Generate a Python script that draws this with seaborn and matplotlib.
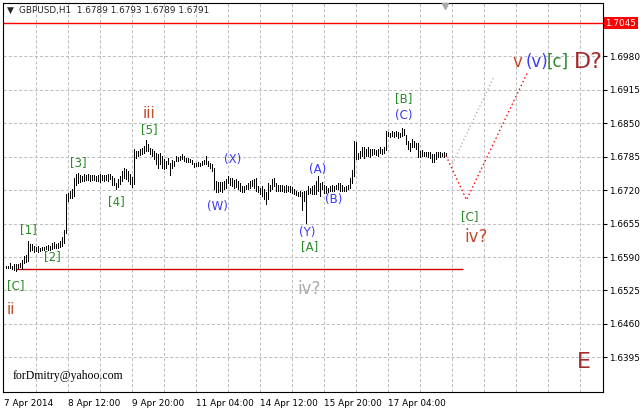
import numpy as np
import pandas as pd
import matplotlib
matplotlib.use("Agg")
import matplotlib.pyplot as plt
import matplotlib.transforms as mtransforms
import seaborn as sns

# GBPUSD H1 bars (bar 1 = first bar, 2 px per bar)
bar_high = [
    1.6573, 1.6572, 1.6579, 1.6573, 1.6576, 1.6577, 1.6577, 1.6579, 1.6584, 1.6592,
    1.6594, 1.6622, 1.6615, 1.6616, 1.6611, 1.6610, 1.6611, 1.6608, 1.6610, 1.6610,
    1.6611, 1.6613, 1.6611, 1.6618, 1.6619, 1.6616, 1.6618, 1.6622, 1.6628, 1.6642,
    1.6712, 1.6715, 1.6718, 1.6722, 1.6744, 1.6752, 1.6754, 1.6749, 1.6747, 1.6751,
    1.6749, 1.6751, 1.6749, 1.6749, 1.6749, 1.6747, 1.6749, 1.6751, 1.6749, 1.6750,
    1.6749, 1.6751, 1.6752, 1.6747, 1.6744, 1.6734, 1.6742, 1.6747, 1.6757, 1.6763,
    1.6761, 1.6757, 1.6751, 1.6746, 1.6800, 1.6796, 1.6796, 1.6800, 1.6802, 1.6806,
    1.6817, 1.6810, 1.6802, 1.6801, 1.6796, 1.6793, 1.6790, 1.6793, 1.6786, 1.6781,
    1.6777, 1.6783, 1.6773, 1.6778, 1.6777, 1.6786, 1.6784, 1.6786, 1.6790, 1.6786,
    1.6783, 1.6783, 1.6781, 1.6778, 1.6773, 1.6773, 1.6775, 1.6773, 1.6777, 1.6778,
    1.6786, 1.6777, 1.6773, 1.6771, 1.6763, 1.6738, 1.6735, 1.6735, 1.6735, 1.6738,
    1.6741, 1.6747, 1.6744, 1.6744, 1.6739, 1.6741, 1.6738, 1.6734, 1.6728, 1.6728,
    1.6731, 1.6734, 1.6738, 1.6739, 1.6741, 1.6743, 1.6728, 1.6725, 1.6728, 1.6722,
    1.6716, 1.6734, 1.6731, 1.6741, 1.6743, 1.6734, 1.6730, 1.6731, 1.6731, 1.6728,
    1.6730, 1.6728, 1.6728, 1.6726, 1.6722, 1.6718, 1.6717, 1.6718, 1.6716, 1.6718,
    1.6718, 1.6728, 1.6724, 1.6728, 1.6731, 1.6738, 1.6747, 1.6734, 1.6736, 1.6731,
    1.6728, 1.6724, 1.6728, 1.6730, 1.6728, 1.6731, 1.6733, 1.6734, 1.6730, 1.6726,
    1.6728, 1.6731, 1.6743, 1.6760, 1.6816, 1.6814, 1.6793, 1.6796, 1.6804, 1.6803,
    1.6801, 1.6803, 1.6801, 1.6800, 1.6800, 1.6798, 1.6800, 1.6803, 1.6800, 1.6804,
    1.6835, 1.6834, 1.6832, 1.6835, 1.6834, 1.6835, 1.6834, 1.6832, 1.6841, 1.6838,
    1.6828, 1.6816, 1.6812, 1.6819, 1.6816, 1.6812, 1.6812, 1.6796, 1.6798, 1.6795,
    1.6795, 1.6794, 1.6794, 1.6790, 1.6790, 1.6794, 1.6795, 1.6794, 1.6792, 1.6795,
    1.6793,
]
bar_low = [
    1.6569, 1.6568, 1.6569, 1.6566, 1.6564, 1.6563, 1.6569, 1.6570, 1.6566, 1.6579,
    1.6581, 1.6583, 1.6602, 1.6603, 1.6600, 1.6602, 1.6600, 1.6602, 1.6603, 1.6603,
    1.6605, 1.6604, 1.6603, 1.6605, 1.6608, 1.6607, 1.6608, 1.6610, 1.6611, 1.6618,
    1.6637, 1.6699, 1.6705, 1.6705, 1.6709, 1.6731, 1.6734, 1.6736, 1.6738, 1.6738,
    1.6739, 1.6739, 1.6738, 1.6739, 1.6739, 1.6738, 1.6738, 1.6736, 1.6739, 1.6738,
    1.6739, 1.6738, 1.6741, 1.6731, 1.6731, 1.6722, 1.6726, 1.6732, 1.6738, 1.6744,
    1.6742, 1.6738, 1.6732, 1.6726, 1.6732, 1.6783, 1.6786, 1.6788, 1.6790, 1.6793,
    1.6796, 1.6796, 1.6790, 1.6786, 1.6781, 1.6771, 1.6764, 1.6771, 1.6764, 1.6761,
    1.6764, 1.6771, 1.6750, 1.6764, 1.6767, 1.6777, 1.6777, 1.6778, 1.6780, 1.6777,
    1.6775, 1.6775, 1.6774, 1.6771, 1.6765, 1.6767, 1.6767, 1.6767, 1.6769, 1.6771,
    1.6771, 1.6767, 1.6763, 1.6757, 1.6722, 1.6717, 1.6717, 1.6718, 1.6717, 1.6722,
    1.6725, 1.6734, 1.6731, 1.6728, 1.6725, 1.6726, 1.6722, 1.6718, 1.6717, 1.6716,
    1.6722, 1.6722, 1.6725, 1.6728, 1.6725, 1.6718, 1.6716, 1.6712, 1.6709, 1.6702,
    1.6694, 1.6702, 1.6718, 1.6722, 1.6728, 1.6718, 1.6718, 1.6718, 1.6718, 1.6717,
    1.6717, 1.6718, 1.6717, 1.6715, 1.6712, 1.6711, 1.6709, 1.6709, 1.6681, 1.6699,
    1.6657, 1.6712, 1.6714, 1.6712, 1.6712, 1.6712, 1.6718, 1.6709, 1.6722, 1.6715,
    1.6715, 1.6717, 1.6718, 1.6718, 1.6718, 1.6722, 1.6722, 1.6718, 1.6718, 1.6718,
    1.6718, 1.6722, 1.6724, 1.6734, 1.6747, 1.6781, 1.6781, 1.6783, 1.6786, 1.6783,
    1.6786, 1.6786, 1.6784, 1.6788, 1.6790, 1.6788, 1.6786, 1.6792, 1.6790, 1.6793,
    1.6799, 1.6825, 1.6823, 1.6825, 1.6823, 1.6825, 1.6822, 1.6823, 1.6825, 1.6827,
    1.6809, 1.6800, 1.6796, 1.6803, 1.6803, 1.6800, 1.6784, 1.6784, 1.6786, 1.6786,
    1.6786, 1.6784, 1.6782, 1.6774, 1.6774, 1.6781, 1.6784, 1.6784, 1.6786, 1.6784,
    1.6789,
]
last_ohlc = [1.6789, 1.6793, 1.6789, 1.6791]

date_labels = ["7 Apr 2014", "8 Apr 12:00", "9 Apr 20:00", "11 Apr 04:00",
               "14 Apr 12:00", "15 Apr 20:00", "17 Apr 04:00"]
date_label_bars = [0, 32, 64, 96, 128, 160, 192]
price_ticks = [1.6395, 1.6460, 1.6525, 1.6590, 1.6655, 1.6720,
               1.6785, 1.6850, 1.6915, 1.6980, 1.7045]

resistance = 1.7045
support = 1.6566
support_span = [6, 229.6]

# forecast paths
proj_red_bars = [221.25, 231.5, 262.25]
proj_red_prices = [1.6787, 1.6701, 1.6951]
proj_grey_bars = [224.4, 245.25]
proj_grey_prices = [1.6771, 1.6941]

GREEN = "#2a8a2a"
BLUE = "#3a3af5"
ROMAN = "#c04a2a"
BROWN = "#a52a2a"
GREY = "#a9a9a9"

# (text, bar, price, colour, size)
wave_labels = [
    ("[C]", 6.0, 1.6535, GREEN, 8.5),
    ("ii", 3.75, 1.6487, ROMAN, 11),
    ("[1]", 12.5, 1.6644, GREEN, 8.5),
    ("[2]", 24.25, 1.6590, GREEN, 8.5),
    ("[3]", 37.5, 1.6774, GREEN, 8.5),
    ("[4]", 56.5, 1.6698, GREEN, 8.5),
    ("[5]", 72.75, 1.6838, GREEN, 8.5),
    ("iii", 72.75, 1.6870, ROMAN, 11),
    ("(X)", 114.75, 1.6779, BLUE, 8.5),
    ("(W)", 107.0, 1.6689, BLUE, 8.5),
    ("(A)", 157.0, 1.6761, BLUE, 8.5),
    ("(B)", 165.25, 1.6701, BLUE, 8.5),
    ("(Y)", 152.0, 1.6637, BLUE, 8.5),
    ("[A]", 153.0, 1.6610, GREEN, 8.5),
    ("iv?", 152.75, 1.6528, GREY, 12),
    ("[B]", 200.0, 1.6899, GREEN, 8.5),
    ("(C)", 200.25, 1.6866, BLUE, 8.5),
    ("[C]", 233.0, 1.6669, GREEN, 8.5),
    ("iv?", 236.5, 1.6629, ROMAN, 12),
    ("v", 256.75, 1.6969, ROMAN, 12),
    ("(v)", 266.75, 1.6969, BLUE, 12),
    ("[c]", 277.25, 1.6969, GREEN, 12),
    ("D?", 292.25, 1.6969, BROWN, 16),
    ("E", 290.0, 1.6386, BROWN, 16),
]

sns.set_style("white")
plt.rcParams['font.family'] = ['DejaVu Sans']

W, H = 641, 409
fig = plt.figure(figsize=(W / 100, H / 100), dpi=100)
fig.patch.set_facecolor("white")
ax = fig.add_axes([3 / W, (H - 391.5) / H, 600 / W, 388 / H])
ax.set_xlim(-0.25, 299.75)
ax.set_ylim(1.63285, 1.70830)

# dashed grid
for gx in range(16, 300, 16):
    ax.axvline(gx, color="#c0c0c0", lw=0.75, ls=(0, (3, 2)), zorder=0)
for gy in price_ticks:
    ax.axhline(gy, color="#c0c0c0", lw=0.75, ls=(0, (3, 2)), zorder=0)

# price bars
bar_idx = np.arange(1, len(bar_high) + 1)
ax.vlines(bar_idx, bar_low, bar_high, color="black", lw=0.72,
          antialiased=False, zorder=3)

# levels
ax.axhline(resistance, color="#ff0000", lw=1.0, zorder=2)
ax.hlines(support, support_span[0], support_span[1], color="#d00000", lw=1.0, zorder=2)

# forecast lines
red_df = pd.DataFrame({"bar": proj_red_bars, "price": proj_red_prices})
grey_df = pd.DataFrame({"bar": proj_grey_bars, "price": proj_grey_prices})
sns.lineplot(data=grey_df, x="bar", y="price", ax=ax, color="#a8a8a8",
             lw=0.9, ls=(0, (1, 2)), sort=False, estimator=None, zorder=2)
sns.lineplot(data=red_df, x="bar", y="price", ax=ax, color="#ff0000",
             lw=1.0, ls=(0, (1, 2)), sort=False, estimator=None, zorder=2)
ax.set_xlabel("")
ax.set_ylabel("")

for txt, bx, py, col, fs in wave_labels:
    ax.text(bx, py, txt, color=col, fontsize=fs, ha="center", va="center", zorder=4)

ax.text(4.75, 1.6359, "forDmitry@yahoo.com", family=["Liberation Serif"],
        fontsize=8.5, ha="left", va="center", color="black")

# axes styling
for sp in ax.spines.values():
    sp.set_color("black")
    sp.set_linewidth(0.8)
ax.yaxis.tick_right()
ax.set_yticks(price_ticks)
ax.set_yticklabels([f"{p:.4f}" if p != resistance else "" for p in price_ticks])
ax.tick_params(axis="y", direction="out", length=3, width=0.8, labelsize=6.4,
               pad=1.5, colors="black")
ax.set_xticks(date_label_bars)
ax.set_xticklabels(date_labels)
for lbl in ax.get_xticklabels():
    lbl.set_ha("left")
ax.tick_params(axis="x", direction="out", length=4, width=0.8, labelsize=6.4,
               pad=1.5, colors="black")

# red price marker on the right
yblend = mtransforms.blended_transform_factory(ax.transAxes, ax.transData)
ax.text(1.004, resistance, "1.7045", transform=yblend, fontsize=6.4, color="white",
        ha="left", va="center", clip_on=False,
        bbox=dict(boxstyle="square,pad=0.2", fc="#ff0000", ec="none"))

# chart shift marker
xblend = mtransforms.blended_transform_factory(ax.transData, ax.transAxes)
ax.plot([220.9], [0.9935], marker="v", ms=5, color="#a9a9a9", transform=xblend,
        clip_on=False, zorder=5)

# header
fig.text(7 / W, 1 - 10.5 / H, "▼", fontsize=6.5, va="center", ha="left")
fig.text(19 / W, 1 - 10.5 / H,
         "GBPUSD,H1  " + " ".join(f"{v:.4f}" for v in last_ohlc),
         fontsize=6.4, va="center", ha="left")

fig.savefig("out.png", dpi=100, facecolor="white")
